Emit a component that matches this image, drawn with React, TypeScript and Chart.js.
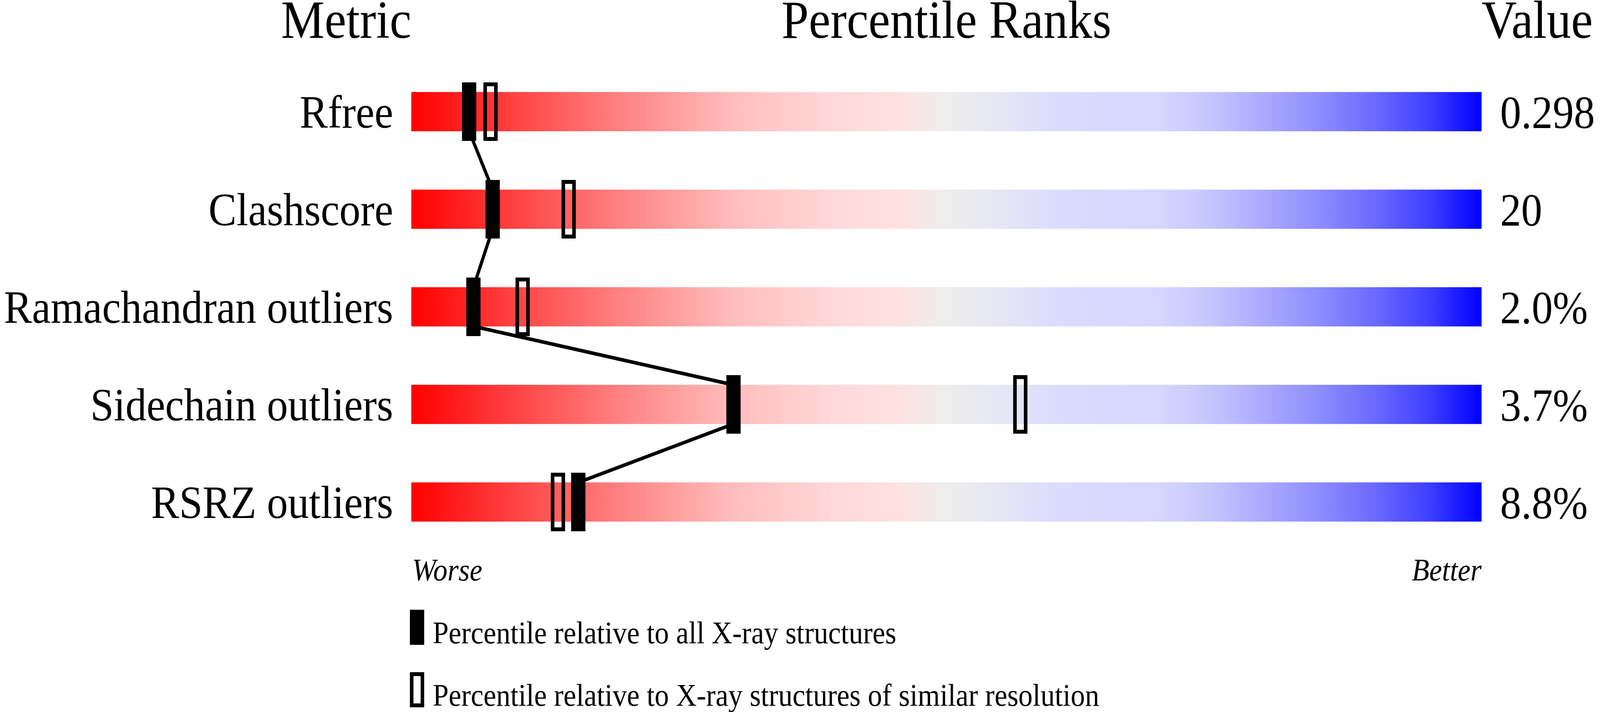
import { useEffect, useRef } from "react"
import { Chart, registerables } from "chart.js"

Chart.register(...registerables)

// drawing size; the canvas is stretched by CSS to fill the window
const WIDTH = 4485
const HEIGHT = 1824

// rows, top to bottom
const metrics = ["Rfree", "Clashscore", "Ramachandran outliers", "Sidechain outliers", "RSRZ outliers"]
const metricValues = ["0.298", "20", "2.0%", "3.7%", "8.8%"]
// percentile relative to all X-ray structures (filled markers)
const percentileAll = [5.4, 7.6, 5.8, 30.1, 15.6]
// percentile relative to X-ray structures of similar resolution (open markers)
const percentileSimilar = [7.4, 14.7, 10.4, 56.9, 13.7]
const legendLabels = [
  "Percentile relative to all X-ray structures",
  "Percentile relative to X-ray structures of similar resolution",
]

// worse (red) -> neutral grey -> better (blue)
const gradientStops: [number, string][] = [
  [0, "#ff0000"],
  [0.1, "#ff4545"],
  [0.2, "#ff8585"],
  [0.3, "#ffbdbd"],
  [0.4, "#ffdada"],
  [0.45, "#ffe0e0"],
  [0.5, "#eeeeee"],
  [0.55, "#e6e6f4"],
  [0.6, "#dcdcff"],
  [0.7, "#d6d6ff"],
  [0.75, "#c4c4ff"],
  [0.8, "#a8a8ff"],
  [0.85, "#8c8cff"],
  [0.9, "#6a6aff"],
  [0.95, "#4040ff"],
  [1, "#0000ff"],
]

const SERIF = '"Liberation Serif", "Times New Roman", serif'
const BAR_HALF = 0.2 // half of a 100px bar in 250px rows

function makeMarker(w: number, h: number, filled: boolean) {
  const c = document.createElement("canvas")
  c.width = w
  c.height = h
  const g = c.getContext("2d")!
  g.fillStyle = "#000"
  g.fillRect(0, 0, w, h)
  if (!filled) g.clearRect(10, 10, w - 20, h - 20)
  return c
}

const legendIcons = () => [makeMarker(40, 90, true), makeMarker(40, 90, false)]

const textPlugin = {
  id: "panelText",
  afterDraw(chart: any) {
    const { ctx, chartArea, scales } = chart
    const x = scales.x
    const left = x.getPixelForValue(0)
    const right = x.getPixelForValue(100)
    ctx.save()
    ctx.fillStyle = "#000"
    ctx.textBaseline = "alphabetic"

    // column headers
    const headY = chartArea.top - 64
    ctx.font = `137px ${SERIF}`
    ctx.textAlign = "right"
    ctx.fillText("Metric", left, headY)
    ctx.textAlign = "center"
    ctx.fillText("Percentile Ranks", x.getPixelForValue(50), headY)
    ctx.textAlign = "left"
    ctx.fillText("Value", right, headY)

    // scale ends
    ctx.font = `italic 80px ${SERIF}`
    ctx.textAlign = "left"
    ctx.fillText("Worse", left + 2, chartArea.bottom + 76)
    ctx.textAlign = "right"
    ctx.fillText("Better", right, chartArea.bottom + 76)

    // legend
    const icons = legendIcons()
    ctx.font = `80px ${SERIF}`
    ctx.textAlign = "left"
    legendLabels.forEach((label, i) => {
      const top = chartArea.bottom + 151 + i * 160
      ctx.drawImage(icons[i], left - 4, top)
      ctx.fillText(label, left + 60, top + 86)
    })
    ctx.restore()
  },
}

// the connecting line runs from the bottom of one bar to the top of the next
function linePoints() {
  const pts: { x: number; y: number }[] = []
  percentileAll.forEach((p, i) => {
    if (i > 0) pts.push({ x: p, y: i - BAR_HALF })
    if (i < percentileAll.length - 1) pts.push({ x: p, y: i + BAR_HALF })
  })
  return pts
}

function rowTicks(scale: any) {
  scale.ticks = metrics.map((_, i) => ({ value: i }))
}

export default function App() {
  const canvasRef = useRef<HTMLCanvasElement>(null)

  useEffect(() => {
    if (!canvasRef.current) return
    const filled = makeMarker(40, 150, true)
    const open = makeMarker(40, 150, false)

    const chart = new Chart(canvasRef.current, {
      type: "scatter",
      data: {
        datasets: [
          {
            type: "scatter",
            label: legendLabels[0],
            data: percentileAll.map((p, i) => ({ x: p, y: i })),
            pointStyle: filled as any,
            pointRadius: 20,
            clip: false as any,
            order: 1,
          },
          {
            type: "scatter",
            label: legendLabels[1],
            data: percentileSimilar.map((p, i) => ({ x: p, y: i })),
            pointStyle: open as any,
            pointRadius: 20,
            clip: false as any,
            order: 2,
          },
          {
            type: "line",
            label: "link",
            data: linePoints(),
            borderColor: "#000",
            borderWidth: 9,
            borderJoinStyle: "round",
            pointRadius: 0,
            tension: 0,
            fill: false,
            order: 3,
          } as any,
          {
            type: "bar",
            label: "range",
            indexAxis: "y",
            data: metrics.map((_, i) => ({ x: [0, 100], y: i })),
            barThickness: 100,
            borderWidth: 0,
            backgroundColor: (c: any) => {
              const { chartArea, ctx, scales } = c.chart
              if (!chartArea) return "#eeeeee"
              const g = ctx.createLinearGradient(scales.x.getPixelForValue(0), 0, scales.x.getPixelForValue(100), 0)
              gradientStops.forEach(([o, col]) => g.addColorStop(o, col))
              return g
            },
            order: 4,
          } as any,
        ],
      },
      options: {
        animation: false,
        responsive: false,
        devicePixelRatio: 1,
        events: [],
        layout: { padding: { top: 161, bottom: 413, left: 0, right: 0 } },
        plugins: { legend: { display: false }, tooltip: { enabled: false } },
        scales: {
          x: { type: "linear", min: 0, max: 100, offset: false, display: false },
          y: {
            type: "linear",
            position: "left",
            min: -0.5,
            max: 4.5,
            reverse: true,
            offset: false,
            grid: { display: false, drawTicks: false, offset: false },
            border: { display: false },
            afterBuildTicks: rowTicks,
            afterFit: (s: any) => {
              s.width = 1153
            },
            ticks: {
              autoSkip: false,
              padding: 51,
              labelOffset: 10,
              color: "#000",
              font: { family: SERIF, size: 118 },
              callback: (v: any) => metrics[v],
            },
          },
          yValue: {
            type: "linear",
            position: "right",
            min: -0.5,
            max: 4.5,
            reverse: true,
            offset: false,
            grid: { display: false, drawTicks: false, offset: false },
            border: { display: false },
            afterBuildTicks: rowTicks,
            afterFit: (s: any) => {
              s.width = 332
            },
            ticks: {
              autoSkip: false,
              padding: 52,
              labelOffset: 11,
              color: "#000",
              font: { family: SERIF, size: 118 },
              callback: (v: any) => metricValues[v],
            },
          },
        },
      } as any,
      plugins: [textPlugin],
    })

    return () => chart.destroy()
  }, [])

  return (
    <div style={{ position: "fixed", left: 0, top: 0, width: "100vw", height: "100vh", background: "#fff" }}>
      <canvas ref={canvasRef} width={WIDTH} height={HEIGHT} style={{ display: "block", width: "100vw", height: "100vh" }} />
    </div>
  )
}
